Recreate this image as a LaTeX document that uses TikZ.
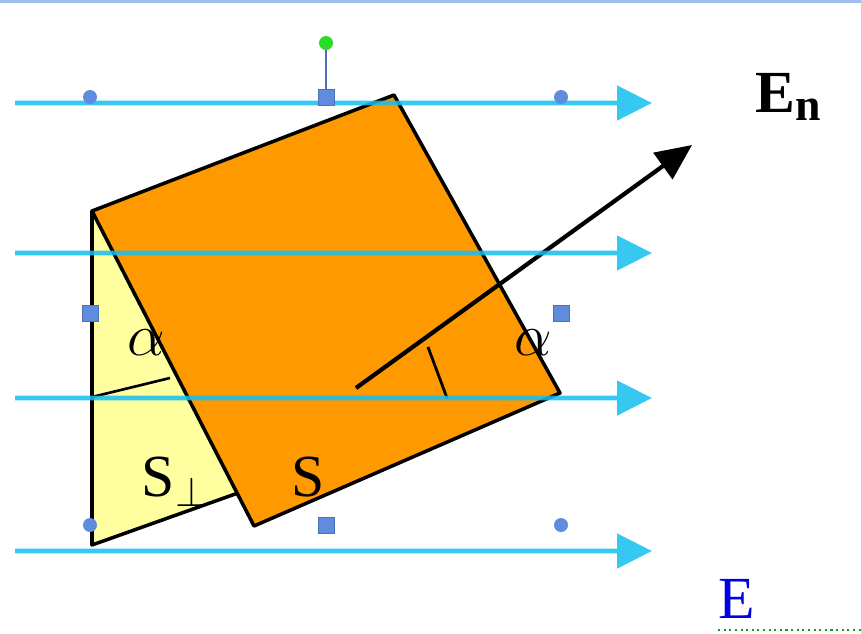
\RequirePackage{fix-cm}
\documentclass[tikz,border=0pt]{standalone}
\usepackage{fontspec}
\setmainfont{Liberation Serif}
\usetikzlibrary{arrows.meta}
\definecolor{fieldcolor}{RGB}{20, 190, 240}
\definecolor{platecolor}{RGB}{255, 153, 0}
\definecolor{shadowcolor}{RGB}{255, 255, 160}
\definecolor{handlecolor}{RGB}{95, 140, 220}
\definecolor{rotcolor}{RGB}{40, 220, 40}
\definecolor{labelblue}{RGB}{0, 0, 225}
\definecolor{framecolor}{RGB}{160, 190, 235}
\newcommand{\lblsize}{\fontsize{34}{40}\selectfont}
\tikzset{
  fieldline/.style={fieldcolor, line width=2.7pt,
    -{Triangle[length=0.7cm, width=0.68cm]}},
  edge/.style={black, line width=2pt, line join=round},
  handledot/.style={handlecolor, fill=handlecolor},
  handlebox/.style={draw=handlecolor!80!black, fill=handlecolor, line width=0.4pt},
}

\begin{document}
\begin{tikzpicture}[x=0.02cm, y=-0.02cm]
    \useasboundingbox (0,0) rectangle (861,633);

    % --- frame at the top ---
    \fill[framecolor] (0,0) rectangle (861,3);

    % --- the projected area S_perp (yellow) ---
    \coordinate (A) at (92,211);   % top corner, shared with the plate
    \coordinate (B) at (238,493);  % where it disappears under the plate
    \coordinate (C) at (92,545);   % lower corner
    \fill[shadowcolor] (A) -- (B) -- (C) -- cycle;
    \draw[edge] (A) -- (C) -- (B);
    \draw[edge, line width=1.5pt] (92,397) -- (170,378);

    % --- the tilted plate S (orange) ---
    \coordinate (P1) at (92,211);
    \coordinate (P2) at (394,95);
    \coordinate (P3) at (560,393);
    \coordinate (P4) at (254,526);
    \draw[edge, fill=platecolor] (P1) -- (P2) -- (P3) -- (P4) -- cycle;

    % --- normal vector and its angle mark ---
    \coordinate (N0) at (356,388);
    \coordinate (N1) at (692,145);
    \draw[line width=2.4pt, -{Triangle[length=0.72cm, width=0.64cm]}] (N0) -- (N1);
    \draw[line width=1.6pt] (428,347) -- (447,398);

    % --- field lines ---
    \foreach \yy in {103, 253, 398, 551} {
        \begin{scope}[transparency group, opacity=0.85]
            \draw[fieldline] (15,\yy) -- (652,\yy);
        \end{scope}
    }

    % --- labels ---
    \node[font=\lblsize] (alphaL) at (146,343) {$\alpha$};
    \node[font=\lblsize] (alphaR) at (533,343) {$\alpha$};
    \node[font=\lblsize, anchor=base] (Sperp) at (175,496) {S\raisebox{-0.18em}{\fontsize{24}{28}\selectfont$\perp$}};
    \node[font=\lblsize, anchor=base] (Splate) at (308,496) {S};
    \node[font=\lblsize\bfseries, anchor=base] (En) at (788,112) {E\raisebox{-0.14em}{\fontsize{26}{30}\selectfont n}};
    \node[font=\lblsize, text=labelblue, anchor=base] (Efield) at (737,618) {E};
    \draw[rotcolor!70!black, line width=1.2pt, dotted] (718,630) -- (861,630);

    % --- selection handles ---
    \draw[handlecolor!80!black, line width=1pt] (326,43) -- (326,97);
    \fill[rotcolor] (326,43) circle (7);
    \foreach \xx/\yy in {90/97, 561/97, 90/525, 561/525}
        \fill[handledot] (\xx,\yy) circle (7);
    \foreach \xx/\yy in {326/97, 90/313, 561/313, 326/525}
        \draw[handlebox] (\xx-8,\yy-8) rectangle (\xx+8,\yy+8);

\end{tikzpicture}
\end{document}
